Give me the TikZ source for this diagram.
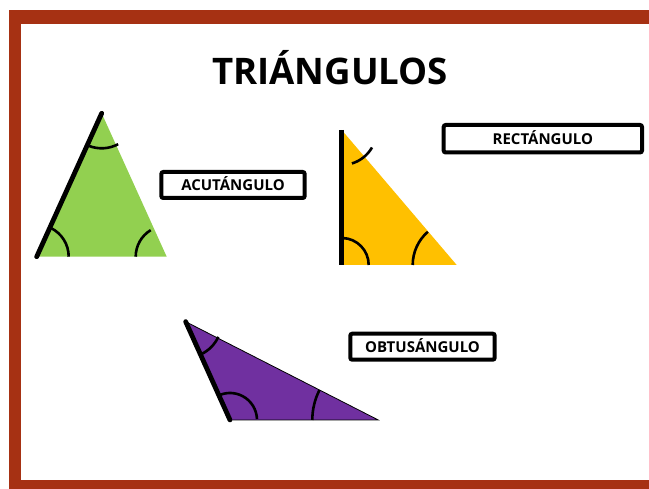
\documentclass[tikz,border=0pt]{standalone}
\usepackage{fontspec}
\setmainfont{Open Sans}
\definecolor{frame}{RGB}{166,49,19}
\definecolor{tgreen}{HTML}{92D050}
\definecolor{tyellow}{HTML}{FFC000}
\definecolor{tpurple}{HTML}{7030A0}
\begin{document}
\begin{tikzpicture}[x=1pt,y=1pt,
  labelbox/.style={draw=black,line width=4pt,rounded corners=2pt,fill=white,
    inner sep=0pt,text height=10.7pt,text depth=0pt,
    font=\fontsize{15}{15}\selectfont\bfseries},
  side/.style={line width=4.8pt,line cap=round},
  anglearc/.style={line width=2.6pt}]
\useasboundingbox (0,0) rectangle (649,489);
\fill[white] (0,0) rectangle (649,489);
% frame
\fill[frame] (9,0) rectangle (649,479);
\fill[white] (21,9) rectangle (649,465);
% title
\node[anchor=base,font=\fontsize{36.6}{36.6}\selectfont\bfseries] (title) at (330,404.7) {TRIÁNGULOS};
% green acute triangle
\coordinate (gA) at (101.7,375.7);
\coordinate (gB) at (36.7,232.3);
\coordinate (gC) at (166.7,232.3);
\fill[tgreen] (gA) -- (gB) -- (gC) -- cycle;
\draw[side] (gB) -- (gA);
\draw[anglearc] (gA) ++(249:35) arc[start angle=249,end angle=298,radius=35];
\draw[anglearc] (gB) ++(0:32) arc[start angle=0,end angle=64,radius=32];
\draw[anglearc] (gC) ++(121:31) arc[start angle=121,end angle=180,radius=31];
\node[labelbox,minimum width=143.4pt,minimum height=26pt] (acu) at (233,304) {ACUTÁNGULO};
% yellow right triangle
\coordinate (yA) at (341.7,359);
\coordinate (yB) at (341.7,224);
\coordinate (yC) at (456.7,224);
\fill[tyellow] (yA) -- (yB) -- (yC) -- cycle;
\draw[line width=4.5pt] (yA) -- (yB);
\draw[anglearc] (yA) ++(287:35) arc[start angle=287,end angle=330,radius=35];
\draw[anglearc] (yB) ++(0:27) arc[start angle=0,end angle=88,radius=27];
\draw[anglearc] (yC) ++(131:44) arc[start angle=131,end angle=180,radius=44];
\node[labelbox,minimum width=198.3pt,minimum height=27.5pt] (rec) at (542.85,350.25) {RECTÁNGULO};
% purple obtuse triangle
\coordinate (pA) at (185.7,167.3);
\coordinate (pB) at (230,69);
\coordinate (pC) at (378.3,69);
\fill[tpurple,draw=black,line width=0.8pt] (pA) -- (pB) -- (pC) -- cycle;
\draw[side] (pA) -- (pB);
\draw[anglearc] (pA) ++(-64:36) arc[start angle=-64,end angle=-25,radius=36];
\draw[anglearc] (pB) ++(2:27) arc[start angle=2,end angle=112,radius=27];
\draw[anglearc] (pC) ++(153:66) arc[start angle=153,end angle=180,radius=66];
\node[labelbox,minimum width=144.4pt,minimum height=26pt] (obt) at (422.5,142.3) {OBTUSÁNGULO};
\end{tikzpicture}
\end{document}
